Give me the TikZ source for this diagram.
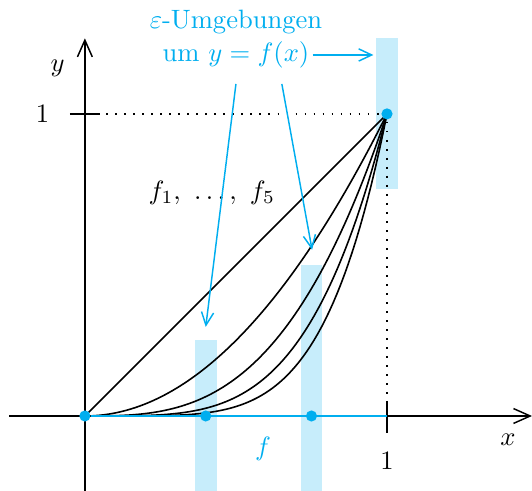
\documentclass[tikz,border=0pt]{standalone}
\usetikzlibrary{arrows.meta}
\definecolor{azul}{RGB}{0,174,239}
\colorlet{azulclaro}{azul!22}
\begin{document}
\begin{tikzpicture}[x=4cm,y=4cm,
    eixo/.style={line width=0.55pt,-{Straight Barb[length=6.3pt,width=5.6pt]}},
    setaazul/.style={azul,line width=0.55pt,-{Straight Barb[length=4.9pt,width=4.6pt]}},
    curva/.style={line width=0.6pt},
    pontilhado/.style={line width=0.65pt,dash pattern=on 0.65pt off 2.75pt},
    ponto/.style={circle,fill=azul,inner sep=0pt,minimum size=4.2pt},
    rotulo/.style={inner sep=1pt}]
    \useasboundingbox (-0.281,-0.248) rectangle (1.480,1.377);

    % vizinhanças
    \foreach \x/\lo/\hi in {
        0.4/-0.25/0.25,
        0.75/-0.25/0.5,
        1/0.75/1.25
    }{
        \fill[azulclaro] (\x-0.036,\lo) rectangle (\x+0.036,\hi);
    }

    % eixos
    \coordinate (xmin) at (-0.25,0);
    \coordinate (xmax) at (1.48,0);
    \coordinate (ymin) at (0,-0.25);
    \coordinate (ymax) at (0,1.25);
    \draw[eixo] (xmin) -- (xmax);
    \draw[eixo] (ymin) -- (ymax);
    \node (lx) at (1.40,-0.08) {$x$};
    \node (ly) at (-0.09,1.15) {$y$};

    % marcas em 1
    \draw[line width=0.55pt] (-0.05,1) -- (0.05,1);
    \draw[line width=0.55pt] (1,0.05) -- (1,-0.057);
    \node (um-y) at (-0.14,1) {$1$};
    \node (um-x) at (1,-0.15) {$1$};
    \draw[pontilhado] (0.07,1) -- (1,1) -- (1,0.06);

    % f_n(x) = x^n
    \foreach \n in {1,...,5}{
        \draw[curva] plot[domain=0:1,samples=80] (\x,{\x^\n});
    }
    \node (fs) at (0.42,0.74) {$f_1,\ \ldots,\ f_5$};

    % limite f
    \node[ponto] (p0) at (0,0) {};
    \node[ponto] (p1) at (0.4,0) {};
    \node[ponto] (p2) at (0.75,0) {};
    \coordinate (p3) at (1,0);
    \node[ponto] (q) at (1,1) {};
    \draw[azul,line width=1.1pt] (p0) -- (p3);
    \node[azul] (lf) at (0.59,-0.11) {$f$};

    % legenda
    \node[azul,rotulo] (tit) at (0.50,1.305) {$\varepsilon$-Umgebungen};
    \node[azul,rotulo] (umf) at (0.50,1.195) {um $y=f(x)$};
    \coordinate (a1) at (0.50,1.099);
    \coordinate (a2) at (0.652,1.099);
    \coordinate (b1) at (0.40,0.295);
    \coordinate (b2) at (0.752,0.55);
    \coordinate (b3) at (0.955,1.195);
    \draw[setaazul] (umf.east) -- (b3);
    \draw[setaazul] (a1) -- (b1);
    \draw[setaazul] (a2) -- (b2);
\end{tikzpicture}
\end{document}
